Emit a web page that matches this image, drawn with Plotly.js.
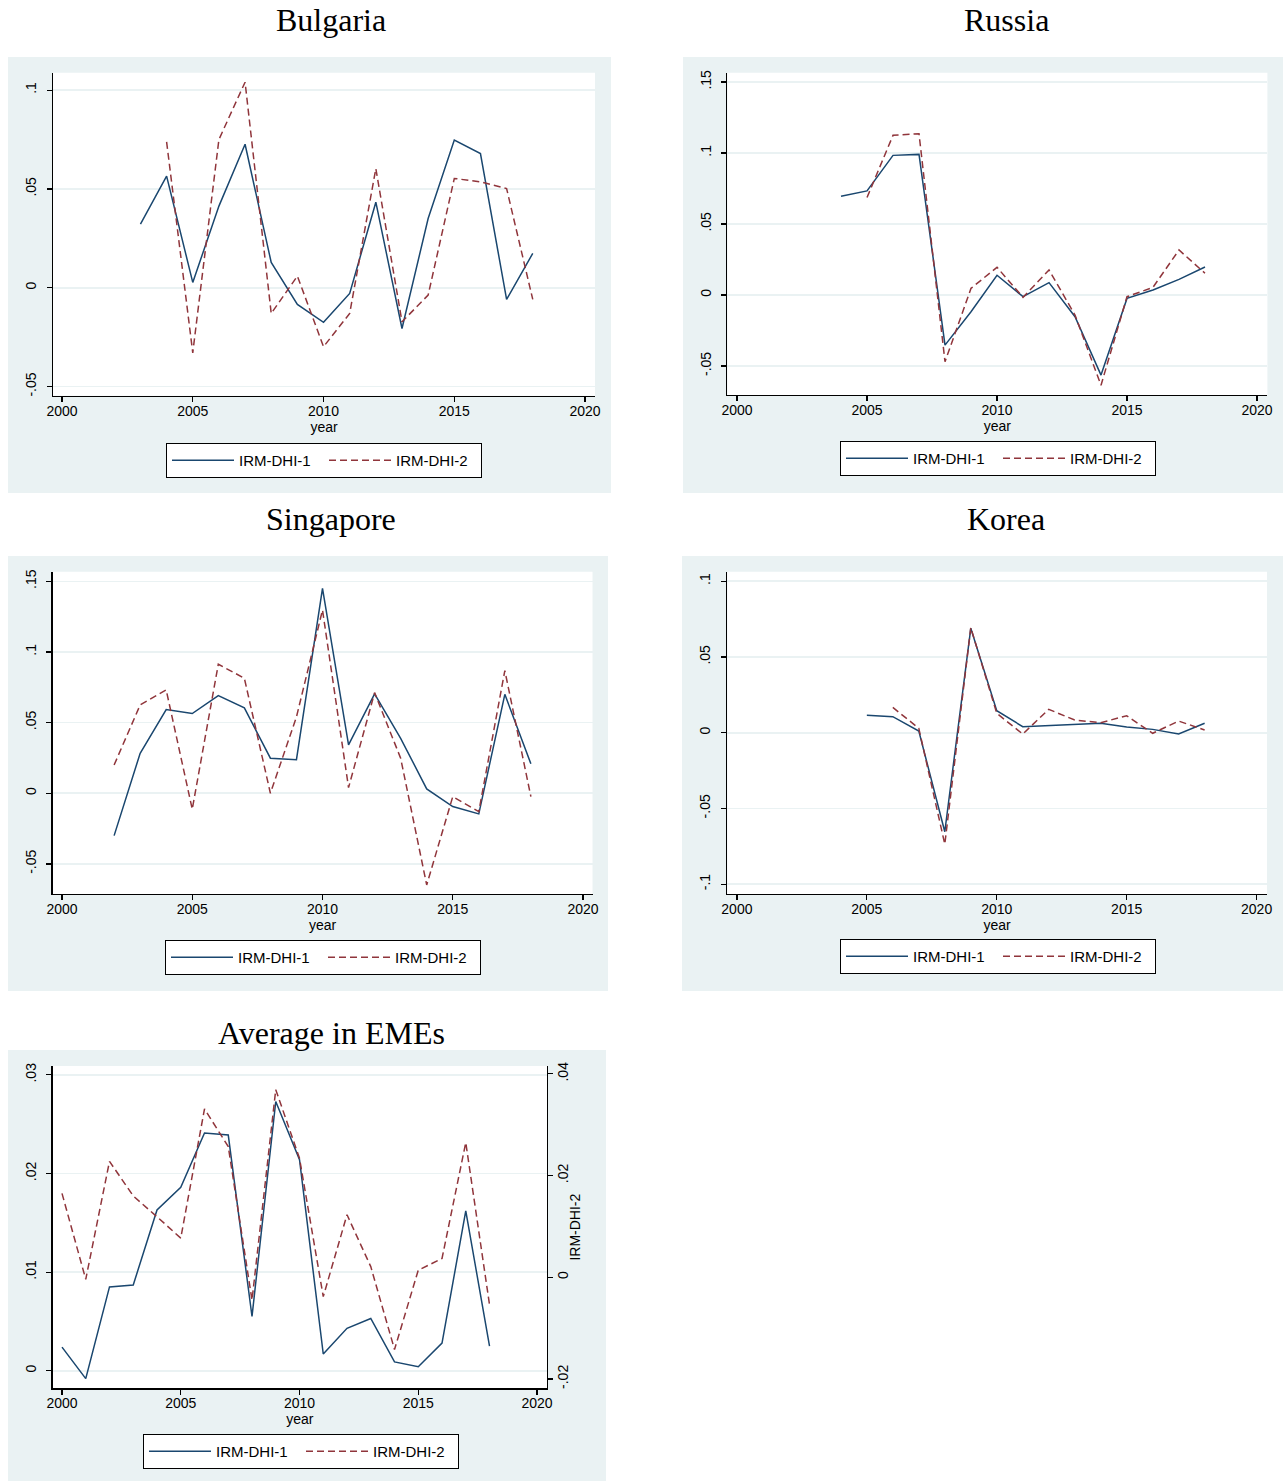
<!DOCTYPE html>
<html><head><meta charset="utf-8">
<script src="https://cdn.plot.ly/plotly-3.0.1.min.js"></script>
<style>body{margin:0;background:#fff}#chart{width:1286px;height:1482px}</style>
</head><body><div id="chart"></div>
<script>
// ---------------- DATA ----------------
const bulgariaYears1 = [2003,2004,2005,2006,2007,2008,2009,2010,2011,2012,2013,2014,2015,2016,2017,2018];
const bulgariaDHI1   = [0.0322,0.0565,0.0027,0.0413,0.0726,0.0128,-0.0084,-0.0175,-0.0029,0.0433,-0.0206,0.0350,0.0747,0.0679,-0.0059,0.0174];
const bulgariaYears2 = [2004,2005,2006,2007,2008,2009,2010,2011,2012,2013,2014,2015,2016,2017,2018];
const bulgariaDHI2   = [0.0738,-0.0329,0.0750,0.1040,-0.0130,0.0059,-0.0298,-0.0130,0.0603,-0.0172,-0.0037,0.0553,0.0536,0.0502,-0.0059];

const russiaYears1 = [2004,2005,2006,2007,2008,2009,2010,2011,2012,2013,2014,2015,2016,2017,2018];
const russiaDHI1   = [0.0696,0.0733,0.0983,0.0990,-0.0353,-0.0118,0.0139,-0.0012,0.0087,-0.0153,-0.0564,-0.0024,0.0035,0.0110,0.0197];
const russiaYears2 = [2005,2006,2007,2008,2009,2010,2011,2012,2013,2014,2015,2016,2017,2018];
const russiaDHI2   = [0.0686,0.1124,0.1135,-0.0470,0.0047,0.0195,-0.0016,0.0176,-0.0141,-0.0635,-0.0012,0.0054,0.0317,0.0153];

const singaporeYears = [2002,2003,2004,2005,2006,2007,2008,2009,2010,2011,2012,2013,2014,2015,2016,2017,2018];
const singaporeDHI1  = [-0.0300,0.0283,0.0592,0.0564,0.0691,0.0604,0.0248,0.0238,0.1450,0.0342,0.0703,0.0389,0.0031,-0.0094,-0.0146,0.0700,0.0208];
const singaporeDHI2  = [0.0200,0.0625,0.0731,-0.0113,0.0913,0.0814,0.0000,0.0540,0.1297,0.0040,0.0712,0.0248,-0.0649,-0.0024,-0.0130,0.0868,-0.0024];

const koreaYears1 = [2005,2006,2007,2008,2009,2010,2011,2012,2013,2014,2015,2016,2017,2018];
const koreaDHI1   = [0.0115,0.0106,0.0011,-0.0654,0.0689,0.0145,0.0040,0.0048,0.0055,0.0062,0.0037,0.0022,-0.0009,0.0062];
const koreaYears2 = [2006,2007,2008,2009,2010,2011,2012,2013,2014,2015,2016,2017,2018];
const koreaDHI2   = [0.0167,0.0029,-0.0736,0.0694,0.0128,-0.0009,0.0154,0.0084,0.0066,0.0112,-0.0004,0.0077,0.0018];

const emeYears = [2000,2001,2002,2003,2004,2005,2006,2007,2008,2009,2010,2011,2012,2013,2014,2015,2016,2017,2018];
const emeDHI1  = [0.0024,-0.0008,0.0085,0.0087,0.0163,0.0186,0.0241,0.0239,0.0055,0.0273,0.0214,0.0017,0.0043,0.0053,0.0009,0.0004,0.0028,0.0162,0.0025];
const emeDHI2  = [0.0165,-0.0004,0.0228,0.0160,0.0119,0.0077,0.0331,0.0257,-0.0045,0.0369,0.0234,-0.0038,0.0123,0.0021,-0.0142,0.0014,0.0037,0.0265,-0.0054];

const seriesNames = ['IRM-DHI-1','IRM-DHI-2'];
const panelTitles = ['Bulgaria','Russia','Singapore','Korea','Average in EMEs'];
const xTickVals = [2000,2005,2010,2015,2020];
const xTickText = ['2000','2005','2010','2015','2020'];
const yTicksA = {vals:[-0.05,0,0.05,0.1], text:['-.05','0','.05','.1']};
const yTicksB = {vals:[-0.05,0,0.05,0.1,0.15], text:['-.05','0','.05','.1','.15']};
const yTicksK = {vals:[-0.1,-0.05,0,0.05,0.1], text:['-.1','-.05','0','.05','.1']};
const yTicksL = {vals:[0,0.01,0.02,0.03], text:['0','.01','.02','.03']};
const yTicksR = {vals:[-0.02,0,0.02,0.04], text:['-.02','0','.02','.04']};

// ---------------- STYLE / LAYOUT ----------------
const W = 1286, H = 1482;
const px = x => x / W, py = y => 1 - y / H;
const NAVY = '#1a476f', MAROON = '#90353b', BG = '#eaf2f3';
const FONT = 'Liberation Sans, Arial, sans-serif';

const panels = [
  {key:'', gx:[8,611], gy:[57,493], px:[53,595], py:[72.7,395.7], xr:[1999.656,2020.38], yr:[-0.0546,0.1088], yt:yTicksA, title:[331,20], leg:[166,443],
   d:[[bulgariaYears1,bulgariaDHI1],[bulgariaYears2,bulgariaDHI2]]},
  {key:'2', gx:[683,1283], gy:[57,493], px:[727.4,1267.4], py:[72.7,395], xr:[1999.63,2020.4], yr:[-0.0704,0.1565], yt:yTicksB, title:[1006,20], leg:[840,441],
   d:[[russiaYears1,russiaDHI1],[russiaYears2,russiaDHI2]]},
  {key:'3', gx:[8,608], gy:[556,991], px:[52.5,592.5], py:[571.7,894], xr:[1999.635,2020.365], yr:[-0.0713,0.1568], yt:yTicksB, title:[331,519], leg:[165,940],
   d:[[singaporeYears,singaporeDHI1],[singaporeYears,singaporeDHI2]]},
  {key:'4', gx:[682,1283], gy:[556,991], px:[727.3,1267], py:[571.7,894], xr:[1999.63,2020.4], yr:[-0.1065,0.1063], yt:yTicksK, title:[1006,519], leg:[840,939],
   d:[[koreaYears1,koreaDHI1],[koreaYears2,koreaDHI2]]},
  {key:'5', gx:[8,606], gy:[1050,1481], px:[52.5,547], py:[1066,1388.3], xr:[1999.6,2020.42], yr:[-0.00178,0.0309], yt:yTicksL, title:[331,1033], leg:[143,1434],
   d:[[emeYears,emeDHI1],[emeYears,emeDHI2]]}
];

const traces = [];
const layout = {
  width: W, height: H, margin:{l:0,r:0,t:0,b:0},
  paper_bgcolor:'#ffffff', plot_bgcolor:'#ffffff',
  font:{family:FONT, size:14, color:'#000'},
  shapes:[], annotations:[]
};

const axisCommon = {
  showline:true, linecolor:'#000', linewidth:1.3, ticks:'outside', ticklen:5, tickwidth:1.2, tickcolor:'#000',
  zeroline:false, tickmode:'array', tickfont:{family:FONT,size:14,color:'#000'}, fixedrange:true
};

panels.forEach((p, i) => {
  const xa = 'x' + p.key, ya = 'y' + p.key;
  const legName = 'legend' + (p.key === '' ? '' : p.key);
  layout.shapes.push({type:'rect', xref:'paper', yref:'paper', layer:'below',
    x0:px(p.gx[0]), x1:px(p.gx[1]), y0:py(p.gy[1]), y1:py(p.gy[0]), fillcolor:BG, line:{width:0}});
  layout.shapes.push({type:'rect', xref:'paper', yref:'paper', layer:'below',
    x0:px(p.px[0]), x1:px(p.px[1]), y0:py(p.py[1]), y1:py(p.py[0]), fillcolor:'#ffffff', line:{width:0}});
  layout['xaxis' + p.key] = Object.assign({}, axisCommon, {
    domain:[px(p.px[0]), px(p.px[1])], anchor:ya, range:p.xr, showgrid:false,
    tickvals:xTickVals, ticktext:xTickText, ticklabelstandoff:-3,
    title:{text:'year', font:{family:FONT,size:14,color:'#000'}, standoff:2}
  });
  layout['yaxis' + p.key] = Object.assign({}, axisCommon, {
    domain:[py(p.py[1]), py(p.py[0])], anchor:xa, range:p.yr,
    showgrid:true, gridcolor:BG, gridwidth:1.6,
    tickvals:p.yt.vals, ticktext:p.yt.text, tickangle:-90, ticklabelstandoff:5
  });
  layout.annotations.push({xref:'paper', yref:'paper', x:px(p.title[0]), y:py(p.title[1]), xanchor:'center', yanchor:'middle',
    text:panelTitles[i], showarrow:false, font:{family:'Liberation Serif, Times New Roman, serif', size:32, color:'#000'}});
  layout[legName] = {orientation:'h', x:px(p.leg[0]), y:py(p.leg[1]), xanchor:'left', yanchor:'top',
    bgcolor:'#ffffff', bordercolor:'#000', borderwidth:1, font:{family:FONT,size:15,color:'#000'},
    itemwidth:62, entrywidth:80, traceorder:'normal'};

  const isAvg = p.key === '5';
  traces.push({type:'scatter', mode:'lines', x:p.d[0][0], y:p.d[0][1], name:seriesNames[0],
    xaxis:xa, yaxis:ya, legend:legName, line:{color:NAVY, width:1.5}, hoverinfo:'skip'});
  traces.push({type:'scatter', mode:'lines', x:p.d[1][0], y:p.d[1][1], name:seriesNames[1],
    xaxis:xa, yaxis: isAvg ? 'y6' : ya, legend:legName, line:{color:MAROON, width:1.5, dash:'7px,4px'}, hoverinfo:'skip'});
});

layout.yaxis6 = Object.assign({}, axisCommon, {
  overlaying:'y5', side:'right', anchor:'x5', range:[-0.02183,0.04155], showgrid:false,
  tickvals:yTicksR.vals, ticktext:yTicksR.text, tickangle:-90, ticklabelstandoff:-2,
  title:{text:'IRM-DHI-2', font:{family:FONT,size:14,color:'#000'}, standoff:0}
});

Plotly.newPlot('chart', traces, layout, {staticPlot:true, displayModeBar:false});
</script>
</body></html>
